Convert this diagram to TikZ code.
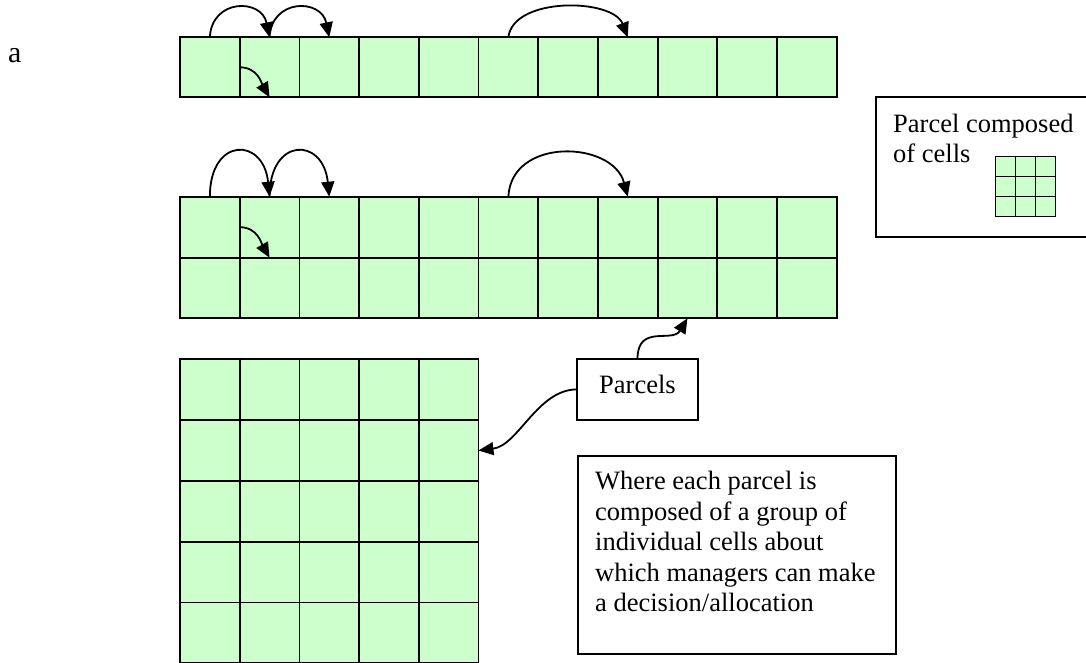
\documentclass[tikz,border=0pt]{standalone}
\usepackage{fontspec}
\setmainfont{Liberation Serif}
\usetikzlibrary{arrows.meta}
\definecolor{cellgreen}{HTML}{CCFFCC}
\begin{document}
\begin{tikzpicture}[x=1pt,y=-1pt,
  cell/.style={draw=black, fill=cellgreen, line width=1.8pt, inner sep=0pt, outer sep=0pt, minimum width=59.7pt, minimum height=#1},
  cell/.default=60pt,
  minicell/.style={draw=black, fill=cellgreen, line width=1.5pt, inner sep=0pt, outer sep=0pt, minimum size=20pt},
  textbox/.style={draw=black, line width=1.8pt, inner sep=0pt, outer sep=0pt},
  arr/.style={line width=1.8pt, -{Triangle[length=15pt,width=13pt]}},
  txt/.style={font=\fontsize{26.5}{30.5}\selectfont, inner sep=0pt, align=left}
]
\useasboundingbox (0,0) rectangle (1086,663);

% label
\node[anchor=base west, inner sep=0pt, font=\fontsize{30}{30}\selectfont] (lbl) at (8,62.7) {a};

% single row and double row
\foreach \i in {1,...,11} {
  \node[cell] (a\i) at ({209.85+59.7*(\i-1)}, 67.3) {};
  \node[cell=61pt] (b\i) at ({209.85+59.7*(\i-1)}, 227.2) {};
  \node[cell=60.6pt] (c\i) at ({209.85+59.7*(\i-1)}, 288) {};
}

% 5x5 grid
\foreach \r in {1,...,5} {
  \foreach \c in {1,...,5} {
    \node[cell=60.8pt] (g\r\c) at ({209.85+59.7*(\c-1)}, {389.7+60.8*(\r-1)}) {};
  }
}

% legend box
\node[textbox, minimum width=230pt, minimum height=139.7pt, anchor=north west] (legend) at (876,97) {};
\node[txt, anchor=north west] (legendtxt) at (893,113.6) {Parcel composed\\of cells};
\foreach \r in {1,2,3} {
  \foreach \c in {1,2,3} {
    \node[minicell] (s\r\c) at ({1005.7+20*(\c-1)}, {166.7+20*(\r-1)}) {};
  }
}

% parcels box
\node[textbox, minimum width=120.4pt, minimum height=61.3pt, text height=18pt, text depth=10.1pt, font=\fontsize{26.5}{30.5}\selectfont] (parcels) at (637.5,389.35) {Parcels};

% explanation box
\node[textbox, minimum width=317.7pt, minimum height=198.6pt, anchor=north west] (where) at (578.3,455.7) {};
\node[txt, anchor=north west] (wheretxt) at (595,471) {Where each parcel is\\composed of a group of\\individual cells about\\which managers can make\\a decision/allocation};

% arrows row 1
\draw[arr] (a1.north) .. controls +(2,-39) and +(-8,-39) .. (a2.north);
\draw[arr] (a2.north) .. controls +(2,-39) and +(-8,-39) .. (a3.north);
\draw[arr] (a6.north) .. controls +(5,-41) and +(-15,-39) .. (a8.north);
\draw[arr] (a2.west) .. controls +(18,0) and +(-8,-14) .. (a2.south);

% arrows row 2
\draw[arr] (b1.north) .. controls +(0,-60) and +(-6,-60) .. (b2.north);
\draw[arr] (b2.north) .. controls +(0,-60) and +(-6,-60) .. (b3.north);
\draw[arr] (b6.north) .. controls +(3,-60) and +(-15,-56) .. (b8.north);
\draw[arr] (b2.west) .. controls +(18,0) and +(-8,-14) .. (b2.south);

% parcels connectors
\draw[arr] (parcels.north) .. controls +(0,-35) and +(-15,25) .. (c9.south);
\draw[arr] (parcels.west) .. controls +(-40,0) and +(40,-5) .. (g25.east);
\end{tikzpicture}
\end{document}
